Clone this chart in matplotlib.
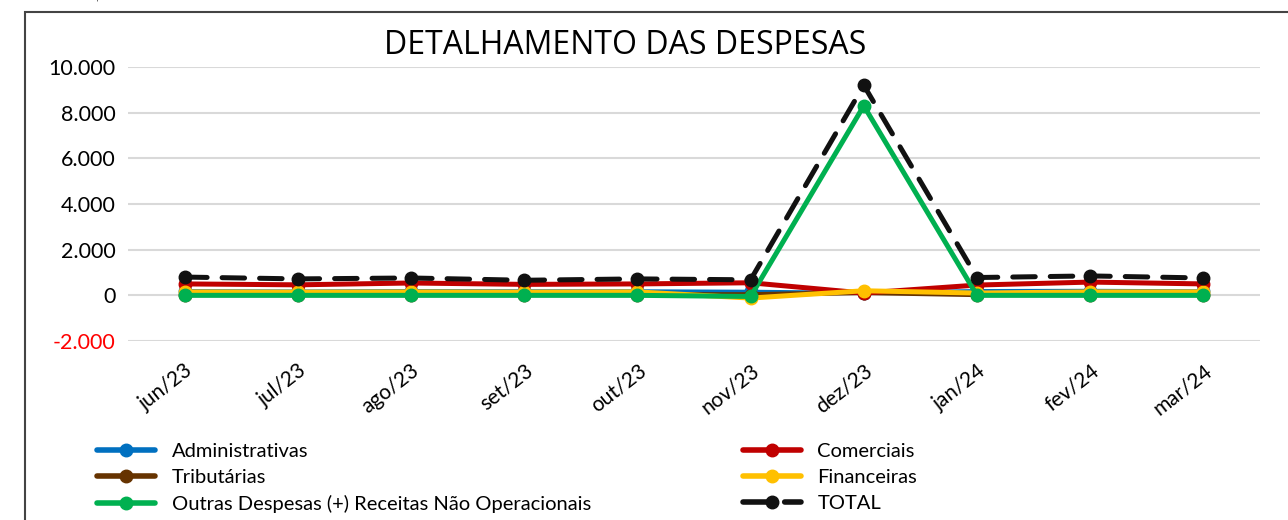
import matplotlib.pyplot as plt
import matplotlib.patches as mpatches
import numpy as np

plt.rcParams['font.family'] = ['Lato', 'DejaVu Sans']

# data (R$ mil)
meses = ['jun/23', 'jul/23', 'ago/23', 'set/23', 'out/23', 'nov/23', 'dez/23', 'jan/24', 'fev/24', 'mar/24']
administrativas = [200, 180, 200, 190, 190, 170, 120, 200, 210, 190]
comerciais = [500, 460, 540, 480, 500, 550, 100, 450, 580, 500]
tributarias = [30, 30, 30, 30, 30, 30, 120, 30, 30, 30]
financeiras = [150, 140, 150, 140, 150, -120, 200, 100, 150, 150]
outras = [0, 0, 0, 0, 0, -50, 8300, 0, 0, 0]
total = [800, 720, 760, 660, 720, 680, 9200, 780, 850, 760]

cores = {'adm': '#0070C0', 'com': '#C00000', 'trib': '#663300', 'fin': '#FFC000', 'out': '#00B050', 'tot': '#111111'}

fig = plt.figure(figsize=(12.88, 5.2), dpi=100)
ax = fig.add_axes([128/1288, 1-341/520, 1132/1288, 274/520])

x = np.arange(len(meses))
lw = 3.6
ms = 9
l_adm, = ax.plot(x, administrativas, color=cores['adm'], lw=2.5, marker='o', ms=ms, label='Administrativas', solid_capstyle='round')
l_trib, = ax.plot(x, tributarias, color=cores['trib'], lw=lw, marker='o', ms=ms, label='Tributárias', solid_capstyle='round')
l_com, = ax.plot(x, comerciais, color=cores['com'], lw=lw, marker='o', ms=ms, label='Comerciais', solid_capstyle='round')
l_fin, = ax.plot(x, financeiras, color=cores['fin'], lw=lw, marker='o', ms=ms, label='Financeiras', solid_capstyle='round')
l_out, = ax.plot(x, outras, color=cores['out'], lw=lw, marker='o', ms=ms, label='Outras Despesas (+) Receitas Não Operacionais', solid_capstyle='round')
l_tot, = ax.plot(x, total, color=cores['tot'], lw=lw, marker='o', ms=ms, label='TOTAL', dashes=(4.5, 3), dash_capstyle='round')

ax.set_xlim(-0.5, len(meses) - 0.5)
ax.set_ylim(-2000, 10000)
ax.set_yticks(np.arange(-2000, 10001, 2000))
ax.set_yticklabels([f'{v:,}'.replace(',', '.') for v in range(-2000, 10001, 2000)], fontsize=15.5)
ax.get_yticklabels()[0].set_color('red')
ax.set_xticks(x)
ax.set_xticklabels(meses, rotation=38, ha='right', rotation_mode='anchor', fontsize=15)
ax.tick_params(axis='both', length=0)
ax.tick_params(axis='y', pad=9)
ax.tick_params(axis='x', pad=14)
ax.grid(axis='y', color='#d9d9d9', lw=1.5)
ax.set_axisbelow(True)
for s in ax.spines.values():
    s.set_visible(False)

fig.text(0.485, 1-45/520, 'DETALHAMENTO DAS DESPESAS', ha='center', va='center', fontsize=23,
         family=['Open Sans', 'DejaVu Sans'])
fig.text(0.004, 0.996, 'Valores em R$ mil', ha='left', va='bottom', fontsize=11, color='#555555')

# moldura do grafico
frame = mpatches.Rectangle((25/1288, -0.1), 1.2, 1-12/520+0.1, transform=fig.transFigure,
                           fill=False, edgecolor='#444444', lw=1.5)
fig.patches.append(frame)

handles = [l_adm, l_trib, l_out, l_com, l_fin, l_tot]
leg = fig.legend(handles=handles, labels=[h.get_label() for h in handles], ncol=2,
                 loc='upper left', bbox_to_anchor=(87/1288, 1-433/520), frameon=False,
                 fontsize=14.5, handlelength=2.9, handletextpad=0.8, columnspacing=7.55,
                 labelspacing=0.45, borderpad=0)
for h in leg.legend_handles:
    h.set_linewidth(4)

fig.savefig('out.png', dpi=100)
